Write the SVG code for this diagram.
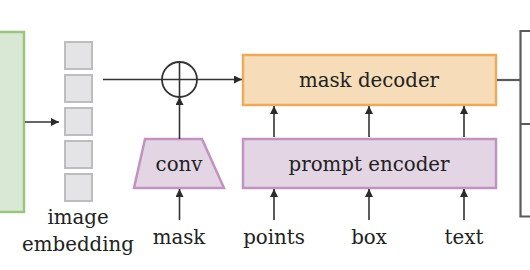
<svg xmlns="http://www.w3.org/2000/svg" width="530" height="270" viewBox="0 0 530 270">
<defs>
<marker id="ah" viewBox="0 0 10 10" refX="10" refY="5" markerWidth="9" markerHeight="8" markerUnits="userSpaceOnUse" orient="auto">
<path d="M0,0 L10,5 L0,10 z" fill="#2a2a2a"/>
</marker>
</defs>
<style>
text{font-family:'DejaVu Serif',serif;font-size:19.8px;fill:#222;text-anchor:middle}
.ln{stroke:#333;stroke-width:1.6;fill:none}
.arr{stroke:#333;stroke-width:1.6;fill:none;marker-end:url(#ah)}
.sq{fill:#e4e4e6;stroke:#bdbdbd;stroke-width:2}
.pur{fill:#e3d5e4;stroke:#c193c3;stroke-width:2.5}
.br{stroke:#5a5a5a;stroke-width:2.2;fill:none}
</style>
<rect width="530" height="270" fill="#ffffff"/>
<g id="image-encoder">
<rect x="-10" y="32" width="34" height="180" fill="#d9e8d4" stroke="#9bc57f" stroke-width="2.5"/>
</g>
<g id="image-embedding">
<rect class="sq" x="65" y="42" width="27" height="27"/>
<rect class="sq" x="65" y="75" width="27" height="27"/>
<rect class="sq" x="65" y="108" width="27" height="27"/>
<rect class="sq" x="65" y="141" width="27" height="27"/>
<rect class="sq" x="65" y="174" width="27" height="27"/>
<text x="78" y="224">image</text>
<text x="78" y="251">embedding</text>
</g>
<g id="sum">
<circle cx="179.5" cy="79.5" r="17.5" fill="none" stroke="#333" stroke-width="1.8"/>
<line class="ln" x1="162" y1="79.5" x2="197" y2="79.5"/>
<line class="ln" x1="179.5" y1="62" x2="179.5" y2="97"/>
</g>
<g id="conv">
<polygon class="pur" points="145,139 202,139 224,188 134,188"/>
<text x="179" y="171">conv</text>
</g>
<g id="mask-decoder">
<rect x="243" y="55" width="253" height="50" fill="#f6dcb8" stroke="#eeaa5b" stroke-width="2.5"/>
<text x="369" y="87">mask decoder</text>
</g>
<g id="prompt-encoder">
<rect class="pur" x="243" y="139" width="253" height="49"/>
<text x="369" y="171">prompt encoder</text>
</g>
<g id="labels">
<text x="179" y="244">mask</text>
<text x="274" y="244">points</text>
<text x="369" y="244">box</text>
<text x="464" y="244">text</text>
</g>
<g id="connectors">
<line class="arr" x1="25" y1="122" x2="59" y2="122"/>
<line class="ln" x1="103" y1="79.5" x2="162" y2="79.5"/>
<line class="arr" x1="197" y1="79.5" x2="242" y2="79.5"/>
<line class="arr" x1="179.5" y1="139" x2="179.5" y2="97"/>
<line class="arr" x1="179.5" y1="220" x2="179.5" y2="189"/>
<line class="arr" x1="274" y1="137" x2="274" y2="106"/>
<line class="arr" x1="369" y1="137" x2="369" y2="106"/>
<line class="arr" x1="464" y1="137" x2="464" y2="106"/>
<line class="arr" x1="274" y1="220" x2="274" y2="189"/>
<line class="arr" x1="369" y1="220" x2="369" y2="189"/>
<line class="arr" x1="464" y1="220" x2="464" y2="189"/>
<line class="br" x1="497" y1="80" x2="520.5" y2="80"/>
<path class="br" d="M532,31 H520.5 V216.5 H532 M520.5,124 H532"/>
</g>
</svg>
